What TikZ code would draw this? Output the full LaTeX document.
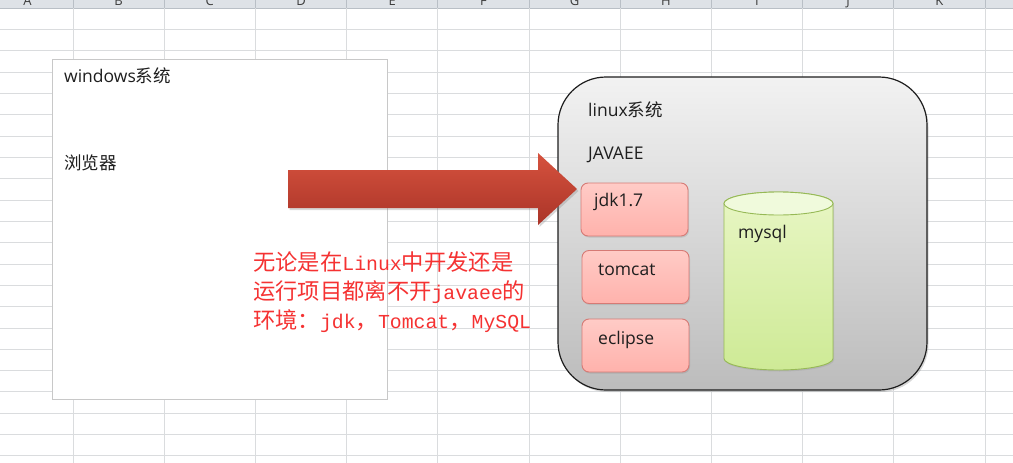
\documentclass[tikz,border=0pt]{standalone}
\usepackage{fontspec}
\setmainfont{Open Sans}
\newfontfamily\cjk{Noto Sans CJK SC}
\newfontfamily\monof{Liberation Mono}
\usetikzlibrary{shadows}
\definecolor{gridc}{RGB}{218,220,222}
\definecolor{hdrc}{RGB}{222,226,231}
\definecolor{hdrline}{RGB}{185,191,198}
\definecolor{hdrtext}{RGB}{60,60,60}
\definecolor{winborder}{RGB}{200,200,200}
\definecolor{labc}{RGB}{30,30,30}
\definecolor{linTop}{RGB}{242,242,242}
\definecolor{linBot}{RGB}{188,188,188}
\definecolor{linBorder}{RGB}{30,30,30}
\definecolor{redTop}{RGB}{255,203,198}
\definecolor{redBot}{RGB}{255,178,172}
\definecolor{redBorder}{RGB}{214,122,117}
\definecolor{cylTop}{RGB}{232,246,196}
\definecolor{cylBot}{RGB}{206,234,150}
\definecolor{cylCap}{RGB}{240,250,220}
\definecolor{cylBorder}{RGB}{150,185,85}
\definecolor{arrTop}{RGB}{214,82,62}
\definecolor{arrBot}{RGB}{170,52,40}
\definecolor{redtxt}{RGB}{245,50,50}
\tikzset{
  lab/.style={anchor=base west, text=labc, inner sep=0pt, font=\fontsize{17.5}{17.5}\selectfont},
  redline/.style={anchor=base west, text=redtxt, inner sep=0pt, font=\cjk\fontsize{22.3}{22.3}\selectfont},
  compbox/.style={rectangle, rounded corners=7pt, draw=redBorder, line width=0.9pt,
    top color=redTop, bottom color=redBot, minimum width=107pt, minimum height=53pt,
    inner sep=0pt, outer sep=0pt,
    drop shadow={opacity=0.25, shadow xshift=1pt, shadow yshift=-1.5pt}},
  gridline/.style={draw=gridc, line width=0.9pt},
}
\newcommand{\lm}[1]{{\monof\fontsize{19.8}{19.8}\selectfont #1}}
\newcommand{\cj}[1]{{\cjk #1}}
\begin{document}
\begin{tikzpicture}[x=1pt,y=-1pt]
\useasboundingbox (0,0) rectangle (1013,463);
\clip (0,0) rectangle (1013,463);
\fill[white] (0,0) rectangle (1013,463);
% header row
\fill[hdrc] (0,0) rectangle (1013,8);
\draw[hdrline, line width=0.9pt] (0,8) -- (1013,8);
\foreach \l [count=\i] in {A,B,C,D,E,F,G,H,I,J,K}
  \node[anchor=base, text=hdrtext, inner sep=0pt, font=\rmfamily\fontsize{13}{13}\selectfont] (h\i) at ({27.4+91.2*(\i-1)},5.5) {\l};
% grid
\foreach \k in {0,...,10}
  \draw[gridline] ({73+91.2*\k},0) -- ({73+91.2*\k},463);
\foreach \k in {1,...,21}
  \draw[gridline] (0,{8+21.33*\k}) -- (1013,{8+21.33*\k});
\foreach \k in {0,...,10}
  \draw[hdrline, line width=0.8pt] ({73+91.2*\k},0) -- ({73+91.2*\k},8);
% windows box
\node[rectangle, draw=winborder, fill=white, line width=1pt, minimum width=335pt, minimum height=340pt, inner sep=0pt] (win) at (219.5,229) {};
\node[lab] (wint) at (64,82) {windows\cj{系统}};
\node[lab] (brow) at (64,169) {\cj{浏览器}};
% linux box
\node[rectangle, rounded corners=48pt, draw=linBorder, line width=1.2pt, top color=linTop, bottom color=linBot,
  minimum width=369pt, minimum height=313pt, inner sep=0pt,
  drop shadow={opacity=0.3, shadow xshift=1.5pt, shadow yshift=-2pt}] (lin) at (742.5,233.5) {};
\node[lab] (lint) at (588,116) {linux\cj{系统}};
\node[lab] (jee) at (588,159) {JAVAEE};
% component boxes
\node[compbox] (jdk) at (634.5,209.5) {};
\node[compbox] (tom) at (635.5,277) {};
\node[compbox] (ecl) at (635.5,345.5) {};
\node[lab] (jdkt) at (594,206) {jdk1.7};
\node[lab] (tomt) at (598,275) {tomcat};
\node[lab] (eclt) at (598,344) {eclipse};
% cylinder
\coordinate (cyl) at (778.5,280);
\path[draw=cylBorder, line width=0.9pt, top color=cylTop, bottom color=cylBot,
  drop shadow={opacity=0.2, shadow xshift=1pt, shadow yshift=-1.5pt}]
  (724,203.5) -- (724,358.5) arc[start angle=180, end angle=360, x radius=54.5pt, y radius=11.5pt]
  -- (833,203.5) arc[start angle=0, end angle=180, x radius=54.5pt, y radius=11.5pt] -- cycle;
\filldraw[fill=cylCap, draw=cylBorder, line width=0.9pt] (778.5,203.5) ellipse [x radius=54.5pt, y radius=11.5pt];
\node[lab] (myt) at (738,238) {mysql};
% block arrow
\coordinate (as) at (288,189);
\coordinate (at) at (577,189);
\path[top color=arrTop, bottom color=arrBot,
  drop shadow={opacity=0.3, shadow xshift=1.5pt, shadow yshift=-2pt}]
  (288,170) -- (538,170) -- (538,153) -- (577,189) -- (538,225) -- (538,208) -- (288,208) -- cycle;
% red text
\node[redline] (r1) at (253,270) {无论是在\lm{Linux}中开发还是};
\node[redline] (r2) at (253,299) {运行项目都离不开\lm{javaee}的};
\node[redline] (r3) at (253,328) {环境：\lm{jdk}，\lm{Tomcat}，\lm{MySQL}};
\end{tikzpicture}
\end{document}
